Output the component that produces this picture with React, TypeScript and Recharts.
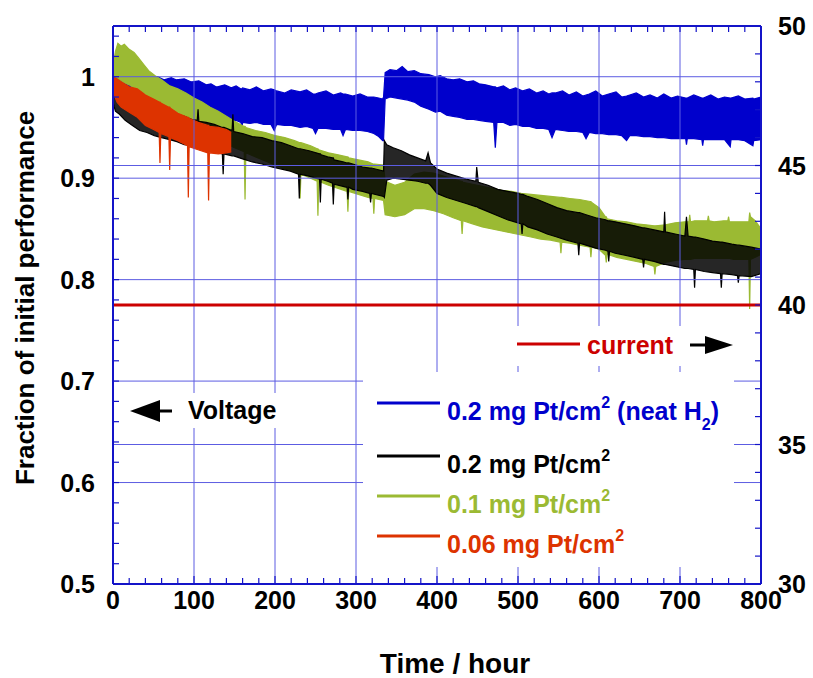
import React from 'react';
import { ComposedChart, Area, Line, XAxis, YAxis, ReferenceLine } from 'recharts';

type Band = [number, number, number][];

const FONT = '"Liberation Sans", Arial, Helvetica, sans-serif';
const AXIS = '#1414c8';
const GRID = '#5c5ce2';

const BLUE = '#0000cc';
const BLACK = '#000000';
const GREEN = '#9bba33';
const RED = '#dd3300';
const CURRENT = '#cc0000';

// axes
const hourDomain = [0, 800];
const leftDomain = [0.5, 1.05];
const rightDomain = [30, 50];
const hourTicks = [0, 20, 40, 60, 80, 100, 120, 140, 160, 180, 200, 220, 240, 260, 280, 300, 320, 340, 360, 380, 400, 420, 440, 460, 480, 500, 520, 540, 560, 580, 600, 620, 640, 660, 680, 700, 720, 740, 760, 780, 800];
const hourGrid = [100, 200, 300, 400, 500, 600, 700];
const leftTicks = [0.5, 0.52, 0.54, 0.56, 0.58, 0.6, 0.62, 0.64, 0.66, 0.68, 0.7, 0.72, 0.74, 0.76, 0.78, 0.8, 0.82, 0.84, 0.86, 0.88, 0.9, 0.92, 0.94, 0.96, 0.98, 1, 1.02, 1.04];
const leftGrid = [0.6, 0.7, 0.8, 0.9, 1.0];
const rightTicks = [30, 31, 32, 33, 34, 35, 36, 37, 38, 39, 40, 41, 42, 43, 44, 45, 46, 47, 48, 49, 50];
const rightGrid = [35, 45];

// series: [hour, low edge, high edge] of the noisy voltage band (fraction of initial)
const blueBand: Band = [
  [0, 0.985, 1.003], [4, 0.979, 1.005], [9, 0.977, 1.002], [15, 0.974, 1.003], [17, 0.968, 1.003],
  [19, 0.975, 1.002], [27, 0.973, 0.999], [33, 0.972, 1.001], [41, 0.97, 0.998], [44, 0.963, 0.998],
  [47, 0.97, 0.999], [55, 0.968, 1.0], [63, 0.967, 0.997], [72, 0.966, 0.999], [75, 0.96, 0.998],
  [78, 0.966, 0.997], [88, 0.965, 0.998], [96, 0.963, 0.995], [97, 0.956, 0.995], [98, 0.963, 0.995],
  [106, 0.961, 0.996], [115, 0.959, 0.992], [121, 0.958, 0.993], [127, 0.957, 0.99], [128, 0.95, 0.99],
  [129, 0.957, 0.99], [138, 0.957, 0.992], [146, 0.956, 0.989], [152, 0.957, 0.991], [158, 0.955, 0.988],
  [159, 0.948, 0.988], [160, 0.955, 0.989], [169, 0.954, 0.987], [177, 0.955, 0.99], [186, 0.953, 0.986],
  [195, 0.953, 0.988], [199, 0.947, 0.987], [202, 0.953, 0.986], [212, 0.952, 0.984], [220, 0.952, 0.987],
  [231, 0.95, 0.985], [239, 0.951, 0.987], [247, 0.949, 0.983], [250, 0.944, 0.983], [253, 0.949, 0.984],
  [263, 0.949, 0.986], [272, 0.948, 0.982], [281, 0.948, 0.984], [284, 0.942, 0.983], [287, 0.948, 0.983],
  [296, 0.947, 0.981], [305, 0.947, 0.983], [314, 0.946, 0.98], [322, 0.944, 0.98], [328, 0.941, 0.979],
  [333, 0.937, 0.978], [334, 0.937, 0.98], [336, 0.978, 1.004], [342, 0.98, 1.007], [350, 0.979, 1.006],
  [357, 0.978, 1.01], [364, 0.977, 1.005], [372, 0.975, 1.006], [380, 0.971, 1.003], [390, 0.968, 1.002],
  [398, 0.965, 1.0], [404, 0.966, 1.001], [412, 0.962, 0.998], [420, 0.961, 0.997], [428, 0.96, 0.998],
  [437, 0.958, 0.995], [445, 0.958, 0.996], [452, 0.957, 0.993], [460, 0.956, 0.992], [470, 0.955, 0.99],
  [472, 0.93, 0.99], [474, 0.955, 0.989], [482, 0.955, 0.991], [490, 0.952, 0.987], [497, 0.953, 0.989],
  [506, 0.951, 0.986], [514, 0.951, 0.988], [523, 0.949, 0.984], [531, 0.949, 0.986], [538, 0.948, 0.983],
  [542, 0.94, 0.984], [546, 0.948, 0.984], [555, 0.947, 0.986], [563, 0.946, 0.982], [572, 0.946, 0.985],
  [580, 0.945, 0.981], [584, 0.939, 0.982], [588, 0.945, 0.983], [596, 0.944, 0.986], [604, 0.944, 0.981],
  [612, 0.943, 0.983], [621, 0.943, 0.985], [628, 0.942, 0.98], [634, 0.937, 0.981], [638, 0.942, 0.982],
  [646, 0.942, 0.984], [655, 0.941, 0.98], [663, 0.941, 0.982], [672, 0.94, 0.979], [680, 0.94, 0.983],
  [689, 0.939, 0.979], [697, 0.939, 0.981], [707, 0.939, 0.979], [708, 0.933, 0.979], [709, 0.939, 0.979],
  [717, 0.939, 0.982], [727, 0.938, 0.979], [728, 0.932, 0.979], [729, 0.938, 0.979], [738, 0.938, 0.982],
  [747, 0.938, 0.978], [755, 0.938, 0.98], [762, 0.931, 0.979], [763, 0.938, 0.979], [772, 0.938, 0.981],
  [780, 0.937, 0.978], [790, 0.932, 0.979], [791, 0.937, 0.978], [800, 0.938, 0.98],
];

const blackBand: Band = [
  [0, 0.975, 1.0], [3, 0.966, 0.995], [8, 0.963, 0.992], [15, 0.957, 0.987], [24, 0.952, 0.983],
  [33, 0.947, 0.978], [42, 0.945, 0.975], [51, 0.942, 0.971], [60, 0.94, 0.968], [70, 0.938, 0.966],
  [79, 0.936, 0.963], [88, 0.933, 0.961], [97, 0.932, 0.958], [104, 0.93, 0.957], [105, 0.93, 0.968],
  [106, 0.93, 0.956], [115, 0.928, 0.955], [125, 0.926, 0.953], [135, 0.924, 0.95], [136, 0.904, 0.95],
  [137, 0.924, 0.95], [147, 0.922, 0.947], [148, 0.922, 0.963], [149, 0.922, 0.946], [160, 0.919, 0.944],
  [172, 0.916, 0.941], [184, 0.914, 0.94], [196, 0.911, 0.937], [208, 0.909, 0.935], [219, 0.907, 0.932],
  [229, 0.904, 0.929], [230, 0.88, 0.929], [231, 0.904, 0.929], [242, 0.902, 0.927], [255, 0.899, 0.924],
  [256, 0.876, 0.924], [257, 0.899, 0.923], [265, 0.897, 0.921], [271, 0.895, 0.92], [272, 0.874, 0.92],
  [273, 0.894, 0.918], [284, 0.892, 0.916], [289, 0.891, 0.915], [290, 0.879, 0.915], [291, 0.891, 0.915],
  [296, 0.889, 0.914], [308, 0.887, 0.911], [317, 0.885, 0.91], [318, 0.876, 0.91], [319, 0.885, 0.91],
  [334, 0.882, 0.907], [335, 0.881, 0.937], [338, 0.898, 0.933], [346, 0.9, 0.93], [356, 0.899, 0.927],
  [366, 0.898, 0.923], [376, 0.897, 0.92], [386, 0.895, 0.917], [389, 0.895, 0.925], [392, 0.893, 0.915],
  [400, 0.885, 0.909], [412, 0.881, 0.905], [424, 0.878, 0.902], [436, 0.875, 0.899], [448, 0.872, 0.897],
  [449, 0.872, 0.911], [451, 0.871, 0.896], [463, 0.867, 0.893], [475, 0.863, 0.889], [487, 0.859, 0.887],
  [500, 0.856, 0.885], [504, 0.855, 0.884], [505, 0.845, 0.884], [506, 0.855, 0.884], [512, 0.852, 0.882],
  [524, 0.849, 0.879], [536, 0.845, 0.875], [548, 0.842, 0.871], [560, 0.839, 0.868], [574, 0.836, 0.866],
  [575, 0.824, 0.866], [576, 0.836, 0.866], [584, 0.834, 0.864], [596, 0.831, 0.861], [608, 0.829, 0.859],
  [611, 0.828, 0.858], [612, 0.818, 0.858], [613, 0.828, 0.858], [620, 0.826, 0.857], [632, 0.824, 0.855],
  [644, 0.822, 0.853], [654, 0.82, 0.851], [655, 0.812, 0.851], [656, 0.82, 0.851], [668, 0.818, 0.849],
  [680, 0.815, 0.847], [681, 0.815, 0.867], [682, 0.815, 0.847], [694, 0.813, 0.845], [706, 0.811, 0.843],
  [708, 0.811, 0.862], [710, 0.811, 0.843], [717, 0.81, 0.842], [718, 0.792, 0.842], [719, 0.81, 0.842],
  [730, 0.808, 0.84], [740, 0.807, 0.838], [750, 0.806, 0.837], [751, 0.792, 0.837], [752, 0.806, 0.837],
  [764, 0.805, 0.835], [771, 0.804, 0.834], [772, 0.797, 0.834], [773, 0.804, 0.834], [788, 0.803, 0.832],
  [800, 0.806, 0.83],
];

const greenBand: Band = [
  [0, 0.99, 1.01], [3, 0.995, 1.025], [6, 0.995, 1.033], [10, 0.996, 1.03], [14, 0.994, 1.032],
  [20, 0.992, 1.027], [26, 0.989, 1.024], [32, 0.986, 1.018], [38, 0.984, 1.012], [44, 0.98, 1.006],
  [52, 0.975, 1.001], [60, 0.97, 0.997], [70, 0.965, 0.991], [80, 0.96, 0.988], [90, 0.955, 0.984],
  [100, 0.95, 0.979], [110, 0.946, 0.975], [120, 0.942, 0.97], [130, 0.938, 0.966], [140, 0.934, 0.961],
  [150, 0.93, 0.956], [162, 0.926, 0.951], [163, 0.879, 0.951], [164, 0.925, 0.95], [176, 0.921, 0.947],
  [188, 0.917, 0.945], [200, 0.913, 0.942], [212, 0.909, 0.94], [224, 0.906, 0.937], [230, 0.904, 0.935],
  [231, 0.88, 0.935], [232, 0.904, 0.935], [244, 0.9, 0.932], [252, 0.897, 0.929], [253, 0.863, 0.929],
  [254, 0.897, 0.928], [266, 0.893, 0.925], [278, 0.89, 0.923], [289, 0.887, 0.921], [290, 0.867, 0.921],
  [291, 0.887, 0.92], [303, 0.884, 0.918], [315, 0.881, 0.916], [321, 0.88, 0.914], [322, 0.865, 0.914],
  [323, 0.88, 0.914], [334, 0.878, 0.913], [336, 0.864, 0.897], [348, 0.862, 0.893], [360, 0.864, 0.896],
  [372, 0.87, 0.904], [384, 0.87, 0.906], [396, 0.868, 0.905], [408, 0.865, 0.902], [420, 0.861, 0.899],
  [430, 0.858, 0.897], [431, 0.845, 0.897], [432, 0.858, 0.896], [444, 0.855, 0.894], [456, 0.852, 0.892],
  [468, 0.85, 0.89], [480, 0.848, 0.888], [492, 0.846, 0.887], [504, 0.844, 0.885], [516, 0.842, 0.884],
  [528, 0.84, 0.883], [540, 0.839, 0.882], [552, 0.837, 0.881], [553, 0.826, 0.881], [554, 0.837, 0.881],
  [564, 0.836, 0.88], [576, 0.834, 0.879], [589, 0.832, 0.877], [590, 0.822, 0.877], [591, 0.832, 0.876],
  [600, 0.83, 0.871], [608, 0.824, 0.862], [609, 0.817, 0.862], [610, 0.825, 0.86], [622, 0.822, 0.858],
  [634, 0.82, 0.857], [646, 0.818, 0.855], [658, 0.816, 0.854], [668, 0.813, 0.853], [669, 0.805, 0.853],
  [670, 0.813, 0.853], [682, 0.817, 0.854], [694, 0.819, 0.856], [706, 0.82, 0.857], [711, 0.82, 0.857],
  [712, 0.82, 0.864], [713, 0.82, 0.857], [718, 0.821, 0.858], [730, 0.821, 0.858], [734, 0.821, 0.858],
  [735, 0.821, 0.863], [736, 0.821, 0.858], [742, 0.821, 0.857], [754, 0.821, 0.858], [759, 0.821, 0.858],
  [760, 0.821, 0.862], [761, 0.821, 0.857], [766, 0.82, 0.857], [778, 0.82, 0.857], [785, 0.82, 0.857],
  [786, 0.771, 0.866], [787, 0.82, 0.862], [793, 0.822, 0.858], [800, 0.825, 0.85],
];

const redBand: Band = [
  [0, 0.985, 1.0], [5, 0.975, 0.998], [10, 0.97, 0.995], [20, 0.965, 0.99], [30, 0.96, 0.988],
  [40, 0.952, 0.982], [50, 0.948, 0.978], [57, 0.945, 0.975], [58, 0.915, 0.975], [59, 0.944, 0.974],
  [69, 0.941, 0.97], [70, 0.908, 0.97], [71, 0.94, 0.969], [80, 0.937, 0.964], [92, 0.932, 0.96],
  [93, 0.881, 0.96], [94, 0.931, 0.959], [105, 0.928, 0.955], [117, 0.925, 0.952], [118, 0.878, 0.952],
  [119, 0.925, 0.951], [130, 0.924, 0.95], [140, 0.925, 0.948], [146, 0.926, 0.945],
];

// current (right axis, A)
const currentHours = [0, 800];
const currentValues = [40, 40];

const toRows = (band: Band) => band.map(([h, lo, hi]) => ({ h, range: [lo, hi] }));
const currentRows = currentHours.map((h, i) => ({ h, c: currentValues[i] }));

const isMajorLeft = (v: number) => Math.abs(v * 10 - Math.round(v * 10)) < 1e-6;
const fmtLeft = (v: number) => (Math.abs(v - 1) < 1e-9 ? '1' : v.toFixed(1));

const textStyle = { fontFamily: FONT, fontWeight: 700 as const, fontSize: 25, fill: '#000' };

const BottomTick = (p: any) => {
  const v = p.payload.value;
  const major = v % 100 === 0;
  return (
    <g>
      <line x1={p.x} x2={p.x} y1={p.y} y2={p.y - (major ? 8 : 6)} stroke={AXIS} strokeWidth={1.2} />
      {major && (
        <text x={p.x} y={p.y + 25} textAnchor="middle" style={textStyle}>
          {v}
        </text>
      )}
    </g>
  );
};

const TopTick = (p: any) => (
  <line x1={p.x} x2={p.x} y1={p.y} y2={p.y + 6} stroke={AXIS} strokeWidth={1.2} />
);

const LeftTick = (p: any) => {
  const v = p.payload.value;
  return (
    <g>
      <line x1={p.x} x2={p.x + 6} y1={p.y} y2={p.y} stroke={AXIS} strokeWidth={1.2} />
      {isMajorLeft(v) && (
        <text x={p.x - 18} y={p.y + 9} textAnchor="end" style={textStyle}>
          {fmtLeft(v)}
        </text>
      )}
    </g>
  );
};

const RightTick = (p: any) => {
  const v = p.payload.value;
  return (
    <g>
      <line x1={p.x} x2={p.x - 6} y1={p.y} y2={p.y} stroke={AXIS} strokeWidth={1.2} />
      {v % 5 === 0 && (
        <text x={p.x + 17} y={p.y + 9} textAnchor="start" style={textStyle}>
          {v}
        </text>
      )}
    </g>
  );
};

const legendItems = [
  { color: BLUE, lineY: 403, base: 420, text: '0.2 mg Pt/cm', neat: true },
  { color: BLACK, lineY: 456, base: 473, text: '0.2 mg Pt/cm', neat: false },
  { color: GREEN, lineY: 496, base: 513, text: '0.1 mg Pt/cm', neat: false },
  { color: RED, lineY: 536, base: 553, text: '0.06 mg Pt/cm', neat: false },
];

const Overlay = () => (
  <svg
    width={813}
    height={678}
    style={{ position: 'absolute', left: 0, top: 0, pointerEvents: 'none' }}
  >
    {/* Voltage label */}
    <rect x={122} y={393} width={175} height={35} fill="#fff" />
    <polygon points="130,411 160,400 160,422" fill="#000" />
    <line x1={158} x2={172} y1={411} y2={411} stroke="#000" strokeWidth={3} />
    <text x={188} y={419} style={textStyle}>Voltage</text>

    {/* current label */}
    <rect x={505} y={326} width={240} height={40} fill="#fff" />
    <line x1={517} x2={580} y1={344} y2={344} stroke={CURRENT} strokeWidth={3} />
    <text x={587} y={354} style={{ ...textStyle, fill: CURRENT }}>current</text>
    <line x1={690} x2={710} y1={345} y2={345} stroke="#000" strokeWidth={3} />
    <polygon points="705,336 733,345 705,354" fill="#000" />

    {/* legend */}
    <rect x={363} y={372} width={371} height={195} fill="#fff" />
    {legendItems.map((it) => (
      <g key={it.color}>
        <line x1={377} x2={440} y1={it.lineY} y2={it.lineY} stroke={it.color} strokeWidth={3} />
        <text x={447} y={it.base} style={{ ...textStyle, fill: it.color }}>
          {it.text}
          <tspan dy={-12} fontSize={16}>2</tspan>
          {it.neat ? (
            <>
              <tspan dy={12}> (neat H</tspan>
              <tspan dy={10} fontSize={16}>2</tspan>
              <tspan dy={-10}>)</tspan>
            </>
          ) : null}
        </text>
      </g>
    ))}

    {/* axis titles */}
    <text
      transform="translate(34,298) rotate(-90)"
      textAnchor="middle"
      style={{ ...textStyle, fontSize: 26 }}
    >
      Fraction of initial performance
    </text>
    <text x={455} y={673} textAnchor="middle" style={{ ...textStyle, fontSize: 28 }}>
      Time / hour
    </text>
  </svg>
);

const bandProps = {
  yAxisId: 'left',
  dataKey: 'range',
  type: 'linear' as const,
  strokeWidth: 1.2,
  dot: false,
  activeDot: false,
  isAnimationActive: false,
};

export default function App() {
  return (
    <div style={{ position: 'absolute', left: 0, top: 0, width: 813, height: 678, background: '#fff' }}>
      <ComposedChart width={813} height={678} margin={{ top: 25, right: 0, bottom: 0, left: 0 }}>
        <XAxis
          dataKey="h"
          type="number"
          domain={hourDomain}
          ticks={hourTicks}
          interval={0}
          height={94}
          tickSize={0}
          tickMargin={0}
          tickLine={false}
          allowDataOverflow
          axisLine={{ stroke: AXIS, strokeWidth: 2 }}
          tick={(p: any) => <BottomTick {...p} />}
        />
        <XAxis
          xAxisId="top"
          orientation="top"
          dataKey="h"
          type="number"
          domain={hourDomain}
          ticks={hourTicks}
          interval={0}
          height={1}
          tickSize={0}
          tickMargin={0}
          tickLine={false}
          allowDataOverflow
          axisLine={{ stroke: AXIS, strokeWidth: 2 }}
          tick={(p: any) => <TopTick {...p} />}
        />
        <YAxis
          yAxisId="left"
          type="number"
          domain={leftDomain}
          ticks={leftTicks}
          interval={0}
          width={113}
          tickSize={0}
          tickMargin={0}
          tickLine={false}
          allowDataOverflow
          axisLine={{ stroke: AXIS, strokeWidth: 2 }}
          tick={(p: any) => <LeftTick {...p} />}
        />
        <YAxis
          yAxisId="right"
          orientation="right"
          type="number"
          domain={rightDomain}
          ticks={rightTicks}
          interval={0}
          width={52}
          tickSize={0}
          tickMargin={0}
          tickLine={false}
          allowDataOverflow
          axisLine={{ stroke: AXIS, strokeWidth: 2 }}
          tick={(p: any) => <RightTick {...p} />}
        />

        {hourGrid.map((h) => (
          <ReferenceLine key={'vx' + h} yAxisId="left" x={h} stroke={GRID} strokeWidth={1} />
        ))}
        {leftGrid.map((v) => (
          <ReferenceLine key={'hl' + v} yAxisId="left" y={v} stroke={GRID} strokeWidth={1} />
        ))}
        {rightGrid.map((v) => (
          <ReferenceLine key={'hr' + v} yAxisId="right" y={v} stroke={GRID} strokeWidth={1} />
        ))}

        <Area {...bandProps} data={toRows(blueBand)} stroke={BLUE} fill={BLUE} fillOpacity={1} />
        <Area {...bandProps} data={toRows(greenBand)} stroke={GREEN} fill={GREEN} fillOpacity={1} />
        <Area {...bandProps} data={toRows(blackBand)} stroke={BLACK} fill={BLACK} fillOpacity={0.85} />
        <Area {...bandProps} data={toRows(redBand)} stroke={RED} fill={RED} fillOpacity={1} />
        <Line
          yAxisId="right"
          data={currentRows}
          dataKey="c"
          type="linear"
          stroke={CURRENT}
          strokeWidth={3}
          dot={false}
          activeDot={false}
          isAnimationActive={false}
        />
      </ComposedChart>
      <Overlay />
    </div>
  );
}
